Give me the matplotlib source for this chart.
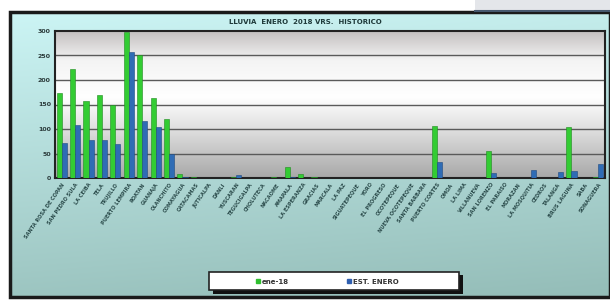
import numpy as np
import matplotlib
matplotlib.use("Agg")
import matplotlib.pyplot as plt
from matplotlib.patches import Rectangle
from matplotlib.colors import LinearSegmentedColormap

title = "LLUVIA  ENERO  2018 VRS.  HISTORICO"
series_names = ["ene-18", "EST. ENERO"]
stations = [
    "SANTA ROSA DE COPAN", "SAN PEDRO SULA", "LA CEIBA", "TELA", "TRUJILLO",
    "PUERTO LEMPIRA", "ROATAN", "GUANAJA", "OLANCHITO", "COMAYAGUA",
    "CATACAMAS", "JUTICALPA", "DANLI", "YUSCARAN", "TEGUCIGALPA",
    "CHOLUTECA", "NACAOME", "AMAPALA", "LA ESPERANZA", "GRACIAS",
    "MARCALA", "LA PAZ", "SIGUATEPEQUE", "YORO", "EL PROGRESO",
    "OCOTEPEQUE", "NUEVA OCOTEPEQUE", "SANTA BARBARA", "PUERTO CORTES", "OMOA",
    "LA LIMA", "VILLANUEVA", "SAN LORENZO", "EL PARAISO", "MORAZAN",
    "LA MOSQUITIA", "CEDROS", "TALANGA", "BRUS LAGUNA", "SABA", "SONAGUERA",
]
ene18 = [173, 222, 158, 170, 148, 298, 252, 163, 121, 8,
         3, 1, 1, 2, 1, 1, 2, 22, 8, 2,
         1, 1, 1, 1, 1, 1, 1, 1, 107, 1,
         1, 1, 55, 1, 1, 1, 1, 1, 104, 1, 2]
est_enero = [71, 109, 78, 78, 70, 257, 117, 104, 50, 2,
             1, 1, 1, 6, 1, 1, 1, 3, 1, 1,
             1, 1, 1, 1, 1, 1, 1, 1, 33, 1,
             1, 1, 10, 1, 1, 16, 1, 13, 15, 1, 28]
yticks = [0, 50, 100, 150, 200, 250, 300]

W, H = 610, 301
fig = plt.figure(figsize=(W / 100, H / 100), dpi=100, facecolor="white")

# background frame
bg = fig.add_axes([0, 0, 1, 1])
bg.set_xlim(0, W)
bg.set_ylim(H, 0)
bg.axis("off")
yy = np.linspace(0, 1, 200)[:, None]
xx = np.linspace(0, 1, 200)[None, :]
top = np.array([0.80, 0.96, 0.96])
bot = np.array([0.58, 0.74, 0.72])
g = (yy * 0.85 + xx * 0.15)
img = top[None, None, :] * (1 - g[..., None]) + bot[None, None, :] * g[..., None]
bg.imshow(img, extent=[10, 610, 297, 12], aspect="auto", zorder=0)
bg.add_patch(Rectangle((10, 12), 600, 285, fill=False, ec="#1a1a1a", lw=2.5, zorder=2))
bg.add_patch(Rectangle((475, 0), 135, 10, fc="#e4e6ea", ec="none", zorder=1))
bg.plot([475, 610], [10.5, 10.5], color="#46586e", lw=1.5, zorder=2)
bg.text(305, 22, title, ha="center", va="center", fontsize=5, fontweight="bold",
        color="#1f3a3a", zorder=3)

# legend box
bg.add_patch(Rectangle((213, 275), 250, 19, fc="#111111", ec="none", zorder=3))
bg.add_patch(Rectangle((209, 272), 250, 18, fc="white", ec="#222222", lw=1.2, zorder=4))
bg.plot([258], [281], marker="s", ms=2.5, color="#2fbf2f", zorder=5)
bg.text(262, 281.5, series_names[0], fontsize=5, fontweight="bold", color="#333333",
        va="center", zorder=5)
bg.plot([349], [281], marker="s", ms=2.5, color="#2f5fb0", zorder=5)
bg.text(353, 281.5, series_names[1], fontsize=5, fontweight="bold", color="#333333",
        va="center", zorder=5)

# main plot
ax = fig.add_axes([55 / W, 1 - 178 / H, 550 / W, 147 / H])
n = len(stations)
ax.set_xlim(-0.5, n - 0.5)
ax.set_ylim(0, 300)
cmap = LinearSegmentedColormap.from_list(
    "pbg", [(0.0, "#a8a8a8"), (0.3, "#dadada"), (0.55, "#ffffff"),
            (0.8, "#f4f4f4"), (1.0, "#c4c0c0")])
grad = np.linspace(0, 1, 256)[:, None]
ax.imshow(grad, extent=[-0.5, n - 0.5, 0, 300], aspect="auto", cmap=cmap,
          origin="lower", zorder=0)
for t in yticks[1:-1]:
    ax.axhline(t, color="#5a5a5a", lw=1.0, zorder=1)

x = np.arange(n)
bw = 0.38
ax.bar(x - bw / 2, ene18, width=bw, color="#33cc33", edgecolor="#1f8a1f", lw=0.4, zorder=3)
ax.bar(x + bw / 2, est_enero, width=bw, color="#2f6cb5", edgecolor="#1f4a80", lw=0.4, zorder=3)

ax.set_yticks(yticks)
ax.set_yticklabels([str(v) for v in yticks], fontsize=4.5, fontweight="bold", color="#2a3a3a")
ax.set_xticks(x)
ax.set_xticklabels(stations, rotation=55, ha="right", rotation_mode="anchor",
                   fontsize=3.6, fontweight="bold", color="#2a4a4a")
ax.tick_params(axis="both", length=0, pad=3)
for s in ax.spines.values():
    s.set_color("#222222")
    s.set_linewidth(1.5)

fig.savefig("out.png", dpi=100, facecolor="white")
